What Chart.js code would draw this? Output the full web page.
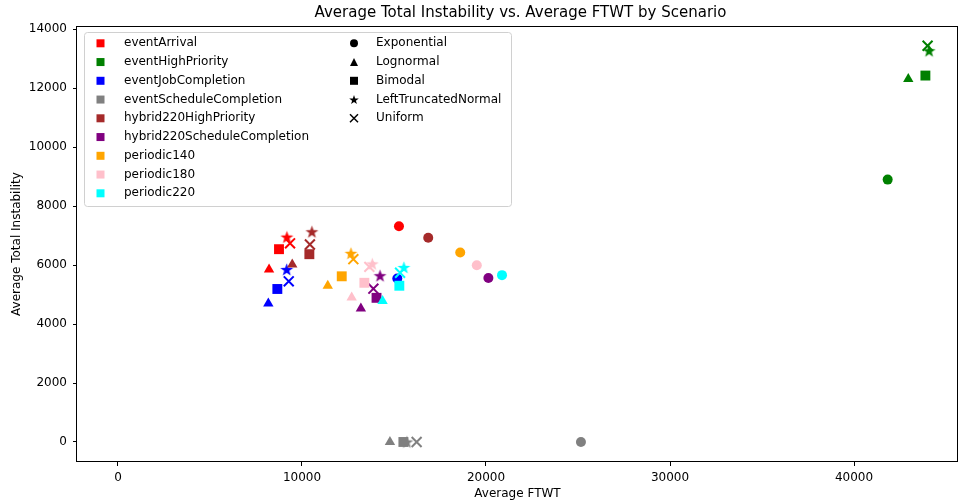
<!DOCTYPE html>
<html>
<head>
<meta charset="utf-8">
<title>Average Total Instability vs. Average FTWT by Scenario</title>
<script src="https://cdn.jsdelivr.net/npm/chart.js@4.4.1/dist/chart.umd.min.js"></script>
<style>
  html, body { margin: 0; padding: 0; background: #fff; }
  canvas { display: block; }
</style>
</head>
<body>
<canvas id="scatterChart" width="959" height="502"></canvas>
<script>
// Scenarios and their colours
const scenarios = [
    'eventArrival', 'eventHighPriority', 'eventJobCompletion', 'eventScheduleCompletion',
    'hybrid220HighPriority', 'hybrid220ScheduleCompletion', 'periodic140', 'periodic180', 'periodic220'
];
const scenarioColors = [
    '#ff0000', '#008000', '#0000ff', '#808080',
    '#a52a2a', '#800080', '#ffa500', '#ffc0cb', '#00ffff'
];

// Arrival distributions (one marker shape each)
const distributions = ['Exponential', 'Lognormal', 'Bimodal', 'LeftTruncatedNormal', 'Uniform'];

// One value per scenario, in the order of `scenarios`
const exponentialFTWT        = [15270, 41830, 15180, 25160, 16860, 20130, 18600, 19500, 20870];
const exponentialInstability = [7320, 8900, 5545, 0, 6925, 5565, 6430, 5995, 5660];
const lognormalFTWT          = [8210, 42950, 8170, 14780, 9470, 13200, 11400, 12700, 14380];
const lognormalInstability   = [5850, 12310, 4700, 0, 6020, 4530, 5300, 4900, 4780];
const bimodalFTWT            = [8750, 43880, 8660, 15510, 10400, 14050, 12160, 13390, 15290];
const bimodalInstability     = [6540, 12430, 5190, 0, 6370, 4890, 5620, 5400, 5300];
const ltnFTWT                = [9180, 44080, 9170, 15700, 10540, 14240, 12660, 13820, 15540];
const ltnInstability         = [6950, 13270, 5850, 0, 7130, 5640, 6400, 6040, 5920];
const uniformFTWT            = [9350, 44000, 9280, 16230, 10430, 13880, 12790, 13660, 15330];
const uniformInstability     = [6740, 13440, 5450, 0, 6700, 5200, 6200, 5940, 5740];

// Axis ticks
const xTicks = [0, 10000, 20000, 30000, 40000];
const yTicks = [0, 2000, 4000, 6000, 8000, 10000, 12000, 14000];

const chartTitle = 'Average Total Instability vs. Average FTWT by Scenario';

const ftwtByDist = [exponentialFTWT, lognormalFTWT, bimodalFTWT, ltnFTWT, uniformFTWT];
const instByDist = [exponentialInstability, lognormalInstability, bimodalInstability, ltnInstability, uniformInstability];

const FONT = '"DejaVu Sans", "Liberation Sans", sans-serif';

// Filled five-point star path
function starPath(ctx, cx, cy, outer, inner) {
    ctx.beginPath();
    for (let k = 0; k < 10; k++) {
        const r = k % 2 === 0 ? outer : inner;
        const a = -Math.PI / 2 + k * Math.PI / 5;
        const px = cx + Math.cos(a) * r;
        const py = cy + Math.sin(a) * r;
        if (k === 0) ctx.moveTo(px, py); else ctx.lineTo(px, py);
    }
    ctx.closePath();
}

// Chart.js has no filled star, so build a small image per colour
function starImage(color) {
    const c = document.createElement('canvas');
    c.width = 15;
    c.height = 15;
    const g = c.getContext('2d');
    g.fillStyle = color;
    starPath(g, 7.5, 8, 6.8, 2.7);
    g.fill();
    return c;
}

// Draws one marker shape (used by the legend)
function drawMarker(ctx, shape, x, y, s, color) {
    ctx.fillStyle = color;
    ctx.strokeStyle = color;
    if (shape === 0) {
        ctx.beginPath();
        ctx.arc(x, y, s, 0, Math.PI * 2);
        ctx.fill();
    } else if (shape === 1) {
        ctx.beginPath();
        ctx.moveTo(x, y - s);
        ctx.lineTo(x + s, y + s);
        ctx.lineTo(x - s, y + s);
        ctx.closePath();
        ctx.fill();
    } else if (shape === 2) {
        ctx.fillRect(x - s, y - s, 2 * s, 2 * s);
    } else if (shape === 3) {
        starPath(ctx, x, y + 0.5, s + 1, (s + 1) * 0.4);
        ctx.fill();
    } else {
        ctx.lineWidth = 1.5;
        ctx.beginPath();
        ctx.moveTo(x - s, y - s); ctx.lineTo(x + s, y + s);
        ctx.moveTo(x + s, y - s); ctx.lineTo(x - s, y + s);
        ctx.stroke();
    }
}

const datasets = scenarios.map((name, i) => {
    const color = scenarioColors[i];
    return {
        label: name,
        data: distributions.map((d, k) => ({ x: ftwtByDist[k][i], y: instByDist[k][i] })),
        pointStyle: ['circle', 'triangle', 'rect', starImage(color), 'crossRot'],
        pointRadius: [5, 6, 7, 6, 7],
        pointBorderWidth: [0, 0, 0, 0, 2],
        backgroundColor: color,
        borderColor: color,
        showLine: false,
        order: -i // later scenarios sit on top
    };
});

// Matplotlib-style legend: scenarios on the left, distributions on the right
const legendPlugin = {
    id: 'scenarioLegend',
    afterDatasetsDraw(chart) {
        const ctx = chart.ctx;
        ctx.save();
        const bx = 84.5, by = 32.5, bw = 427, bh = 174, r = 3;
        ctx.beginPath();
        ctx.moveTo(bx + r, by);
        ctx.arcTo(bx + bw, by, bx + bw, by + bh, r);
        ctx.arcTo(bx + bw, by + bh, bx, by + bh, r);
        ctx.arcTo(bx, by + bh, bx, by, r);
        ctx.arcTo(bx, by, bx + bw, by, r);
        ctx.closePath();
        ctx.fillStyle = 'rgba(255,255,255,0.8)';
        ctx.fill();
        ctx.strokeStyle = '#d0d0d0';
        ctx.lineWidth = 1;
        ctx.stroke();

        ctx.font = '12px ' + FONT;
        ctx.textBaseline = 'middle';
        ctx.textAlign = 'left';
        const rowY = k => 43.3 + k * 18.75;
        scenarios.forEach((name, i) => {
            const y = rowY(i);
            ctx.fillStyle = scenarioColors[i];
            ctx.fillRect(96.5, y - 4, 8, 8);
            ctx.fillStyle = '#000';
            ctx.fillText(name, 124, y);
        });
        distributions.forEach((name, k) => {
            const y = rowY(k);
            drawMarker(ctx, k, 354, y, 4, '#000');
            ctx.fillStyle = '#000';
            ctx.fillText(name, 376, y);
        });
        ctx.restore();
    }
};

// Full box around the plot area, plus the title centred over it
const framePlugin = {
    id: 'frame',
    afterDraw(chart) {
        const { ctx, chartArea: a } = chart;
        ctx.save();
        ctx.strokeStyle = '#000';
        ctx.lineWidth = 1;
        ctx.strokeRect(Math.round(a.left) - 0.5, Math.round(a.top) + 0.5,
            Math.round(a.right - a.left), Math.round(a.bottom - a.top) - 1);
        ctx.fillStyle = '#000';
        ctx.font = '15px ' + FONT;
        ctx.textAlign = 'center';
        ctx.textBaseline = 'middle';
        ctx.fillText(chartTitle, (a.left + a.right) / 2 + 3, 13);
        ctx.restore();
    }
};

// Keep the axes box fixed, without extra room for edge tick labels
function noEdgePadding(s) {
    s.paddingLeft = 0;
    s.paddingRight = 0;
    s.paddingTop = 0;
    s.paddingBottom = 0;
}

const ctx = document.getElementById('scatterChart').getContext('2d');
new Chart(ctx, {
    type: 'scatter',
    data: { datasets },
    options: {
        responsive: false,
        animation: false,
        devicePixelRatio: 1,
        layout: { autoPadding: false, padding: { left: 0, right: 1, top: 26, bottom: 0 } },
        plugins: {
            legend: { display: false },
            tooltip: { enabled: false },
            title: { display: false }
        },
        scales: {
            x: {
                type: 'linear',
                min: -2228,
                max: 45652,
                afterBuildTicks: s => { s.ticks = xTicks.map(v => ({ value: v })); },
                afterFit: s => { s.height = 40; noEdgePadding(s); },
                ticks: {
                    color: '#000',
                    font: { family: FONT, size: 12 },
                    padding: 5,
                    maxRotation: 0,
                    callback: v => String(v)
                },
                grid: { drawOnChartArea: false, drawTicks: true, tickLength: 4, tickColor: '#000' },
                border: { display: false },
                title: {
                    display: true,
                    text: 'Average FTWT',
                    color: '#000',
                    font: { family: FONT, size: 12 },
                    padding: { top: 0, bottom: 1 }
                }
            },
            y: {
                type: 'linear',
                min: -679,
                max: 14111,
                afterBuildTicks: s => { s.ticks = yTicks.map(v => ({ value: v })); },
                afterFit: s => { s.width = 77; noEdgePadding(s); },
                ticks: {
                    color: '#000',
                    font: { family: FONT, size: 12 },
                    padding: 6,
                    callback: v => String(v)
                },
                grid: { drawOnChartArea: false, drawTicks: true, tickLength: 4, tickColor: '#000' },
                border: { display: false },
                title: {
                    display: true,
                    text: 'Average Total Instability',
                    color: '#000',
                    font: { family: FONT, size: 12 },
                    padding: { top: 9.5, bottom: 0 }
                }
            }
        }
    },
    plugins: [legendPlugin, framePlugin]
});
</script>
</body>
</html>
